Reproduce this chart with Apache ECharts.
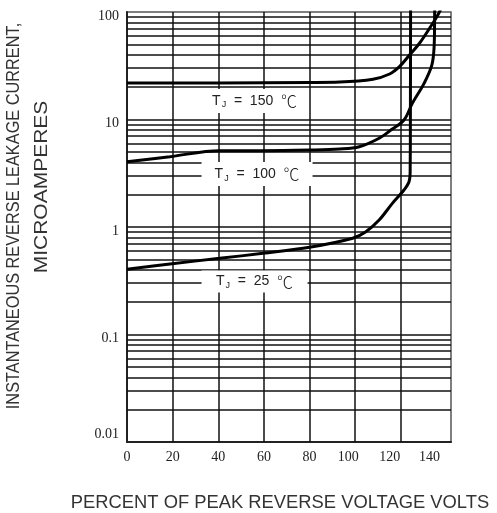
<!DOCTYPE html>
<html><head><meta charset="utf-8">
<script src="https://cdn.jsdelivr.net/npm/echarts@6/dist/echarts.min.js"></script>
<style>html,body{margin:0;padding:0;background:#fff}#c{width:497px;height:513px}</style>
</head><body><div id="c"></div>
<script>
// ---- data ----
const xTicks = [0, 20, 40, 60, 80, 100, 120, 140];
const yTickLabels = ['0.01', '0.1', '1', '10', '100'];
const xGridValues = [20, 40, 60, 80, 100, 120];
const decades = [0.01, 0.1, 1, 10];
const minorSteps = [1, 2, 3, 4, 5, 6, 7, 8, 9];

const t25X = [0, 18.8, 40.6, 59.6, 80, 98.9, 104.7, 110.5, 116.3, 121.4, 123.6, 124.1, 124.2, 124.3];
const t25Y = [0.404, 0.453, 0.511, 0.569, 0.647, 0.785, 0.904, 1.16, 1.66, 2.21, 2.64, 3.3, 10, 150];

const t100X = [0, 18.8, 40.6, 59.6, 80, 93.2, 101.8, 110.5, 116.3, 121.4, 125.1, 130.2, 133.6, 134.6, 134.8, 134.9];
const t100Y = [4.05, 4.51, 5.13, 5.13, 5.2, 5.31, 5.58, 6.69, 8.16, 9.89, 14.2, 21.7, 32.1, 47.6, 80, 150];

const t150X = [0, 40, 80, 93.2, 107.8, 115.1, 119.4, 123.8, 128.2, 132.6, 137, 138.5];
const t150Y = [21.8, 21.9, 22.1, 22.3, 23.7, 26.5, 31.0, 39.8, 51.2, 70.5, 100.7, 130];

const curveTemps = ['150', '100', '25'];
const labelAnchorX = [55.9, 57.0, 55.9];
const labelAnchorY = [14.86, 3.11, 0.311];

// ---- build ----
const pairs = (xs, ys) => xs.map((x, i) => [x, ys[i]]);
const minorVals = [];
decades.forEach(d => minorSteps.forEach(k => { if (!(d === 0.01 && k === 1)) minorVals.push(+(d * k).toPrecision(3)); }));

const gridLineData = minorVals.map(v => ({ yAxis: v })).concat(xGridValues.map(v => ({ xAxis: v })));

const labelBoxes = [[96, 24], [111, 24], [106, 22]];
const rich = {
  t: { fontFamily: 'Liberation Sans', fontSize: 14, color: '#222' },
  j: { fontFamily: 'Liberation Sans', fontSize: 9, color: '#222', verticalAlign: 'bottom', padding: [8, 0, 0, 1] },
  e: { fontFamily: 'Liberation Sans', fontSize: 14, color: '#222' },
  c: { fontFamily: 'Noto Sans CJK SC', fontSize: 16, fontWeight: 300, color: '#222' }
};
function tempLabel(i) {
  return {
    symbol: 'rect', symbolSize: labelBoxes[i], silent: true, z: 20,
    itemStyle: { color: '#fff' },
    label: { show: true, position: 'inside', formatter: '{t|T}{j|J}{e|  =  ' + curveTemps[i] + '  }{c|℃}', rich: rich },
    data: [{ coord: [labelAnchorX[i], labelAnchorY[i]] }]
  };
}
const curveStyle = { color: '#000', width: 3 };
function curve(xs, ys, i) {
  return {
    type: 'line', data: pairs(xs, ys), showSymbol: false, symbol: 'none',
    smooth: 0.35, lineStyle: curveStyle, z: 5, silent: true,
    markPoint: tempLabel(i)
  };
}
const xShift = { 100: 14, 120: 22, 140: 34 };

const chart = echarts.init(document.getElementById('c'), null, { renderer: 'canvas' });
chart.setOption({
  animation: false,
  backgroundColor: '#fff',
  grid: { left: 127, right: 46, top: 12, bottom: 71, show: true, borderColor: '#555', borderWidth: 1.5, backgroundColor: 'transparent' },
  xAxis: {
    type: 'value', min: 0, max: 142, interval: 20,
    axisLine: { show: true, lineStyle: { color: '#222', width: 2 } },
    axisTick: { show: false },
    splitLine: { show: false },
    axisLabel: {
      showMaxLabel: false, margin: 8,
      fontFamily: 'Liberation Serif', fontSize: 14, color: '#222',
      rich: { s100: { padding: [0, 14, 0, 0] }, s120: { padding: [0, 22, 0, 0] }, s140: { padding: [0, 34, 0, 0] } },
      formatter: v => {
        if (xTicks.indexOf(v) < 0) return '';
        return xShift[v] ? '{s' + v + '|' + v + '}' : String(v);
      }
    }
  },
  yAxis: {
    type: 'log', logBase: 10, min: 0.01, max: 100,
    axisLine: { show: true, lineStyle: { color: '#222', width: 2 } },
    axisTick: { show: false },
    splitLine: { show: false },
    axisLabel: {
      margin: 8, padding: [8, 0, 0, 0],
      fontFamily: 'Liberation Serif', fontSize: 14, color: '#222',
      rich: { low: { padding: [0, 0, 24, 0] } },
      formatter: v => {
        const i = Math.round(Math.log10(v)) + 2;
        const s = yTickLabels[i] || '';
        return i === 0 ? '{low|' + s + '}' : s;
      }
    }
  },
  graphic: [
    { type: 'text', x: 14, y: 216, rotation: Math.PI / 2, scaleX: 0.906, silent: true,
      style: { text: 'INSTANTANEOUS REVERSE LEAKAGE CURRENT,', x: 0, y: 0, align: 'center', verticalAlign: 'middle', font: '18px "Liberation Sans"', fill: '#333' } },
    { type: 'text', x: 42, y: 187, rotation: Math.PI / 2, scaleX: 1.2, silent: true,
      style: { text: 'MICROAMPERES', x: 0, y: 0, align: 'center', verticalAlign: 'middle', font: '17.5px "Liberation Sans"', fill: '#333' } },
    { type: 'text', x: 280, y: 503, scaleX: 1.02, silent: true,
      style: { text: 'PERCENT OF PEAK REVERSE VOLTAGE VOLTS', x: 0, y: 0, align: 'center', verticalAlign: 'middle', font: '18px "Liberation Sans"', fill: '#333' } }
  ],
  series: [
    {
      type: 'line', data: [], silent: true, z: 1,
      markLine: {
        silent: true, symbol: ['none', 'none'], z: 1, animation: false,
        label: { show: false },
        lineStyle: { color: '#111', width: 1.5, type: 'solid' },
        emphasis: { disabled: true },
        data: gridLineData
      }
    },
    curve(t150X, t150Y, 0),
    curve(t100X, t100Y, 1),
    curve(t25X, t25Y, 2)
  ]
});
</script>
</body></html>
